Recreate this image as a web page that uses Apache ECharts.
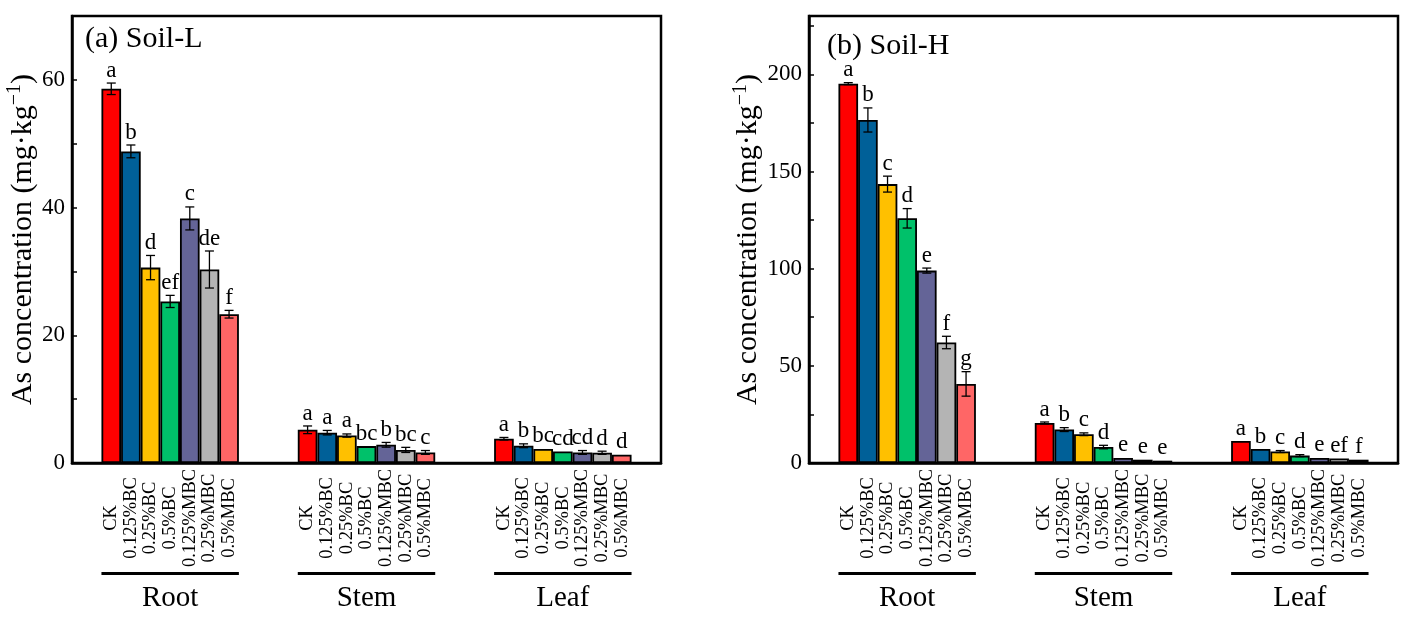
<!DOCTYPE html>
<html>
<head>
    <meta charset="utf-8">
    <title>As concentration</title>
    <script src="https://cdn.jsdelivr.net/npm/echarts@6/dist/echarts.min.js"></script>
    <style type="text/css">
        html, body { margin: 0; padding: 0; background: #fff; }
        #main { width: 1407px; height: 617px; }
    </style>
</head>
<body>
    <div id="main"></div>
    <script type="text/javascript">
        var organs = ['Root', 'Stem', 'Leaf'];
        var treatments = ['CK', '0.125%BC', '0.25%BC', '0.5%BC', '0.125%MBC', '0.25%MBC', '0.5%MBC'];
        var colors = ['#FF0000', '#006098', '#FFC000', '#00C16A', '#646497', '#B4B4B4', '#FF6666'];

        // Soil-L: rows = Root, Stem, Leaf ; columns = treatments
        var meanL = [
            [58.6, 48.8, 30.6, 25.3, 38.3, 30.3, 23.3],
            [5.2, 4.75, 4.3, 2.65, 2.85, 2.05, 1.65],
            [3.8, 2.7, 2.2, 1.8, 1.65, 1.6, 1.3]
        ];
        var errL = [
            [0.9, 1.0, 1.9, 0.95, 1.8, 2.9, 0.6],
            [0.6, 0.35, 0.25, 0, 0.37, 0.4, 0.3],
            [0.2, 0.3, 0, 0, 0.3, 0.25, 0]
        ];
        var letL = [
            ['a', 'b', 'd', 'ef', 'c', 'de', 'f'],
            ['a', 'a', 'a', 'bc', 'b', 'bc', 'c'],
            ['a', 'b', 'bc', 'cd', 'cd', 'd', 'd']
        ];

        // Soil-H
        var meanH = [
            [195.2, 176.5, 143.5, 125.9, 99.0, 62.0, 40.7],
            [20.6, 17.2, 14.8, 8.2, 2.6, 1.7, 1.2],
            [11.3, 7.2, 5.9, 3.8, 2.6, 2.3, 1.7]
        ];
        var errH = [
            [0.5, 6.2, 4.1, 5.0, 1.3, 3.2, 6.3],
            [0.5, 1.0, 0.7, 0.9, 0, 0, 0],
            [0, 0, 0.5, 0.5, 0, 0, 0]
        ];
        var letH = [
            ['a', 'b', 'c', 'd', 'e', 'f', 'g'],
            ['a', 'b', 'c', 'd', 'e', 'e', 'e'],
            ['a', 'b', 'c', 'd', 'e', 'ef', 'f']
        ];

        var FONT = "'Liberation Serif', 'Times New Roman', serif";
        var SLOTS = 10;   // slots per organ group: 7 bars + 3 gap
        var gridW = 589;

        // fine axis: one point per slot boundary, bar centres fall on slots 2..8 of each group
        var slotNames = [];
        for (var s = 0; s <= SLOTS * organs.length; s++) slotNames.push('');
        organs.forEach(function (o, g) {
            treatments.forEach(function (t, i) { slotNames[g * SLOTS + 2 + i] = t; });
        });

        var chart = echarts.init(document.getElementById('main'));

        function errRender(letters) {
            return function (params, api) {
                var k = api.value(0), m = api.value(1), e = api.value(2);
                var g = Math.floor(k / SLOTS), i = k - g * SLOTS - 2;
                var top = api.coord([k, m + e]);
                var bot = api.coord([k, m - e]);
                var kids = [];
                if (e > 0) {
                    var st = { stroke: '#000', lineWidth: 1.3 };
                    kids.push({ type: 'line', shape: { x1: top[0], y1: top[1], x2: bot[0], y2: bot[1] }, style: st });
                    kids.push({ type: 'line', shape: { x1: top[0] - 4.5, y1: top[1], x2: top[0] + 4.5, y2: top[1] }, style: st });
                    kids.push({ type: 'line', shape: { x1: bot[0] - 4.5, y1: bot[1], x2: bot[0] + 4.5, y2: bot[1] }, style: st });
                }
                kids.push({
                    type: 'text',
                    style: {
                        text: letters[g][i], x: top[0], y: top[1] - 1,
                        align: 'center', verticalAlign: 'bottom',
                        font: '23px ' + FONT, fill: '#000'
                    }
                });
                return { type: 'group', children: kids };
            };
        }

        function errData(mean, err) {
            var d = [];
            organs.forEach(function (o, g) {
                treatments.forEach(function (t, i) {
                    d.push([g * SLOTS + 2 + i, mean[g][i], err[g][i]]);
                });
            });
            return d;
        }

        function organAxis(gi) {
            return {
                type: 'category', gridIndex: gi, data: organs, position: 'bottom',
                axisLine: { lineStyle: { color: '#000', width: 2.5 } },
                axisTick: { show: false },
                axisLabel: {
                    margin: 109, interval: 0,
                    formatter: function (v) { return '{u| }\n{t|' + v + '}'; },
                    rich: {
                        u: { width: gridW / SLOTS / organs.length * treatments.length, height: 3, lineHeight: 3, fontSize: 1, backgroundColor: '#000' },
                        t: { fontFamily: FONT, fontSize: 29, lineHeight: 46, color: '#000' }
                    }
                }
            };
        }

        function slotAxis(gi) {
            return {
                type: 'category', gridIndex: gi, data: slotNames, boundaryGap: false, position: 'bottom',
                axisLine: { show: false }, axisTick: { show: false },
                axisLabel: {
                    interval: 0, rotate: 90, align: 'center', verticalAlign: 'middle',
                    margin: 55, fontFamily: FONT, fontSize: 18.5, color: '#000'
                }
            };
        }

        function valueAxis(gi, max, step, labelStep, gap) {
            return {
                type: 'value', gridIndex: gi, min: 0, max: max, interval: step,
                name: 'As concentration (mg·kg{sup|−1})',
                nameLocation: 'middle', nameGap: gap, nameRotate: 90,
                nameTextStyle: {
                    fontFamily: FONT, fontSize: 30, color: '#000',
                    rich: { sup: { fontFamily: FONT, fontSize: 20, padding: [0, 0, 16, 0], color: '#000' } }
                },
                axisLine: { show: true, lineStyle: { color: '#000', width: 2.5 } },
                axisTick: { show: true, inside: true, length: 5, lineStyle: { color: '#000', width: 1.5 } },
                axisLabel: {
                    margin: 7, fontFamily: FONT, fontSize: 23, color: '#000',
                    formatter: function (v) { return v % labelStep === 0 ? String(v) : ''; }
                },
                splitLine: { show: false }
            };
        }

        function panelSeries(gi, mean, err, letters) {
            var out = treatments.map(function (t, i) {
                return {
                    name: t, type: 'bar', xAxisIndex: gi * 2, yAxisIndex: gi,
                    barGap: '0%', barCategoryGap: '30%',
                    itemStyle: { color: colors[i], borderColor: '#000', borderWidth: 1.8 },
                    data: organs.map(function (o, g) { return mean[g][i]; })
                };
            });
            out.push({
                type: 'custom', xAxisIndex: gi * 2 + 1, yAxisIndex: gi, z: 5,
                renderItem: errRender(letters), data: errData(mean, err)
            });
            return out;
        }

        var option = {
            backgroundColor: '#fff',
            animation: false,
            title: [
                { text: '(a) Soil-L', left: 80, top: 19, textStyle: { fontFamily: FONT, fontSize: 30, fontWeight: 'normal', color: '#000' } },
                { text: '(b) Soil-H', left: 822, top: 26, textStyle: { fontFamily: FONT, fontSize: 30, fontWeight: 'normal', color: '#000' } }
            ],
            grid: [
                { left: 72, top: 16, width: gridW, height: 447, show: true, borderColor: '#000', borderWidth: 2.5, containLabel: false, outerBoundsMode: 'none' },
                { left: 809, top: 16, width: gridW, height: 447, show: true, borderColor: '#000', borderWidth: 2.5, containLabel: false, outerBoundsMode: 'none' }
            ],
            xAxis: [organAxis(0), slotAxis(0), organAxis(1), slotAxis(1)],
            yAxis: [valueAxis(0, 70, 10, 20, 30), valueAxis(1, 230, 25, 50, 42)],
            series: panelSeries(0, meanL, errL, letL).concat(panelSeries(1, meanH, errH, letH))
        };
        chart.setOption(option);
    </script>
</body>
</html>
